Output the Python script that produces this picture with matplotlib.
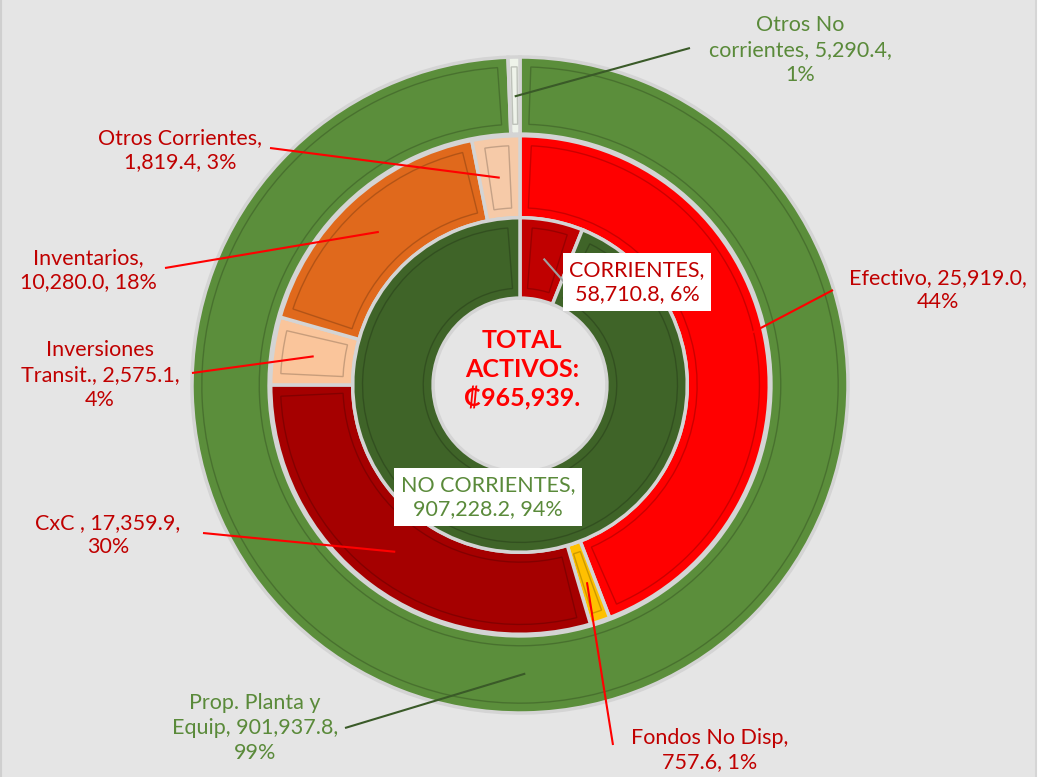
import matplotlib
matplotlib.use("Agg")
import matplotlib.pyplot as plt
from matplotlib.patches import Wedge
from matplotlib.colors import to_rgb
import numpy as np

plt.rcParams["font.family"] = ["Lato", "DejaVu Sans"]

# inner ring
inner_labels = ["CORRIENTES", "NO CORRIENTES"]
inner_values = [58710.8, 907228.2]
inner_colors = ["#c00000", "#3f6428"]

# middle ring (detail of CORRIENTES)
mid_labels = ["Efectivo", "Fondos No Disp", "CxC ", "Inversiones\nTransit.", "Inventarios", "Otros Corrientes"]
mid_values = [25919.0, 757.6, 17359.9, 2575.1, 10280.0, 1819.4]
mid_colors = ["#ff0000", "#ffc000", "#a50000", "#fac59b", "#e0691c", "#f6caa8"]

# outer ring (detail of NO CORRIENTES)
out_labels = ["Prop. Planta y\nEquip", "Otros No\ncorrientes"]
out_values = [901937.8, 5290.4]
out_colors = ["#5b8e3b", "#eef3ea"]

total_text = "TOTAL\nACTIVOS:\n₡965,939."

RED_TXT = "#c00000"
GREEN_TXT = "#5a8a3a"
FS = 15.5

# pixel layout: donut centre and outer radius
CX, CY, R = 520, 385, 328
W, H = 1055, 777
PANEL_W = 1036  # grey panel width, white strip to the right


def P(x, y):
    """pixel position -> data coords"""
    return (x - CX) / R, (CY - y) / R


fig = plt.figure(figsize=(W / 100, H / 100), dpi=100)
fig.patch.set_facecolor("white")
ax = fig.add_axes([0, 0, PANEL_W / W, 1])
ax.set_facecolor("#e5e5e5")
ax.patch.set_visible(True)


def ring(values, colors, radius, width):
    wedges, _ = ax.pie(values, colors=colors, radius=radius, startangle=90,
                       counterclock=False,
                       wedgeprops=dict(width=width, edgecolor="#d4d4d4", linewidth=2.5))
    # simple bevel: darker inset outline
    for w, c in zip(wedges, colors):
        dark = tuple(v * 0.6 for v in to_rgb(c))
        inset = 0.03
        span = w.theta2 - w.theta1
        dth = min(np.degrees(inset / (radius - width / 2)), span / 4)
        ax.add_patch(Wedge((0, 0), radius - inset, w.theta1 + dth, w.theta2 - dth,
                           width=width - 2 * inset, facecolor="none",
                           edgecolor=dark, linewidth=1.0, alpha=0.5))
    return wedges


out_w = ring(out_values, out_colors, 1.0, 0.235)
mid_w = ring(mid_values, mid_colors, 0.76, 0.25)
in_w = ring(inner_values, inner_colors, 0.51, 0.245)

# pie() resets the limits, so set them afterwards
ax.set_xlim(-CX / R, (PANEL_W - CX) / R)
ax.set_ylim((CY - H) / R, CY / R)
ax.set_aspect("auto")
ax.set_xticks([])
ax.set_yticks([])
for s in ax.spines.values():
    s.set_visible(False)
ax.spines["left"].set_visible(True)
ax.spines["left"].set_color("#cfcfcf")
ax.spines["left"].set_linewidth(3)
ax.spines["right"].set_visible(True)
ax.spines["right"].set_color("#d6d6d6")
ax.spines["right"].set_linewidth(1.5)
ax.set_frame_on(True)


def mid_point(w, r):
    a = np.radians((w.theta1 + w.theta2) / 2)
    return r * np.cos(a), r * np.sin(a)


def pct(v, vals):
    return f"{v / sum(vals) * 100:.0f}%"


def callout(w, r, text, text_px, line_px, color, line_color):
    px, py = mid_point(w, r)
    lx, ly = P(*line_px)
    ax.plot([lx, px], [ly, py], color=line_color, lw=1.5, solid_capstyle="butt")
    tx, ty = P(*text_px)
    ax.text(tx, ty, text, color=color, ha="center", va="center",
            fontsize=FS, linespacing=1.3)


# outer ring labels
callout(out_w[1], 0.88, f"Otros No\ncorrientes, {out_values[1]:,.1f},\n{pct(out_values[1], out_values)}",
        (800, 50), (690, 48), GREEN_TXT, "#3a5a28")
callout(out_w[0], 0.88, f"Prop. Planta y\nEquip, {out_values[0]:,.1f},\n{pct(out_values[0], out_values)}",
        (255, 728), (345, 728), GREEN_TXT, "#3a5a28")

# middle ring labels
mid_text_px = [(938, 290), (710, 750), (108, 535), (100, 375), (88, 270), (180, 150)]
mid_line_px = [(833, 290), (613, 745), (203, 533), (192, 373), (165, 268), (270, 148)]
mid_texts = [
    f"Efectivo, {mid_values[0]:,.1f},\n{pct(mid_values[0], mid_values)}",
    f"Fondos No Disp,\n{mid_values[1]:,.1f}, {pct(mid_values[1], mid_values)}",
    f"CxC , {mid_values[2]:,.1f},\n{pct(mid_values[2], mid_values)}",
    f"Inversiones\nTransit., {mid_values[3]:,.1f},\n{pct(mid_values[3], mid_values)}",
    f"Inventarios,\n{mid_values[4]:,.1f}, {pct(mid_values[4], mid_values)}",
    f"Otros Corrientes,\n{mid_values[5]:,.1f}, {pct(mid_values[5], mid_values)}",
]
for w, t, tp, lp in zip(mid_w, mid_texts, mid_text_px, mid_line_px):
    callout(w, 0.635, t, tp, lp, RED_TXT, "#ff0000")

# inner ring labels (boxed)
px, py = mid_point(in_w[0], 0.39)
lx, ly = P(565, 283)
ax.plot([lx, px], [ly, py], color="#a0a0a0", lw=1.5)
tx, ty = P(637, 282)
ax.text(tx, ty, f"CORRIENTES,\n{inner_values[0]:,.1f}, {pct(inner_values[0], inner_values)}",
        color=RED_TXT, ha="center", va="center", fontsize=FS, linespacing=1.3,
        bbox=dict(boxstyle="square,pad=0.3", facecolor="white", edgecolor="none"))
tx, ty = P(488, 497)
ax.text(tx, ty, f"NO CORRIENTES,\n{inner_values[1]:,.1f}, {pct(inner_values[1], inner_values)}",
        color=GREEN_TXT, ha="center", va="center", fontsize=FS, linespacing=1.3,
        bbox=dict(boxstyle="square,pad=0.3", facecolor="white", edgecolor="none"))

# centre
tx, ty = P(522, 370)
ax.text(tx, ty, total_text, color="#ff0000", ha="center", va="center",
        fontsize=18, fontweight="bold", linespacing=1.3)

fig.savefig("out.png", dpi=100, facecolor=fig.get_facecolor())
